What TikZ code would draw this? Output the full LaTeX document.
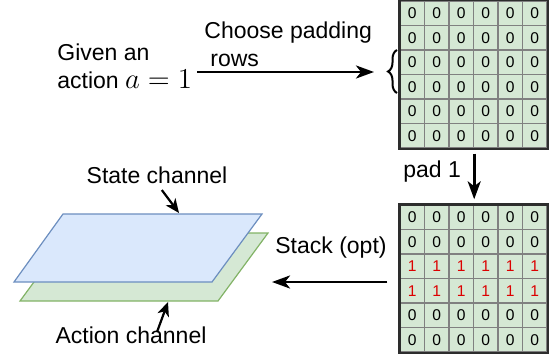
\documentclass[tikz,border=0pt]{standalone}
\usepackage{fontspec}
\setmainfont{Liberation Sans}
\usepackage{tikz}
\usetikzlibrary{arrows.meta,decorations.pathreplacing,calc}
\definecolor{mygreenfill}{RGB}{213,232,212}
\definecolor{mygreenline}{RGB}{130,179,102}
\definecolor{mybluefill}{RGB}{218,232,252}
\definecolor{myblueline}{RGB}{108,142,191}
\definecolor{mycellline}{RGB}{128,128,128}
\definecolor{myframe}{RGB}{45,45,45}
\definecolor{myred}{RGB}{220,0,0}
\tikzstyle{cell}=[draw=mycellline,fill=mygreenfill,line width=0.7pt,minimum size=12.25pt,inner sep=0pt,font=\fontsize{7.8}{9}\selectfont]
\tikzstyle{txt}=[inner sep=0pt]
\tikzstyle{flow}=[line width=1.4pt,-{Stealth[length=9pt,width=6.5pt,inset=2.5pt]}]
\tikzstyle{pointer}=[line width=1.1pt,-{Stealth[length=7pt,width=6pt,inset=2pt]}]
\begin{document}
\begin{tikzpicture}[x=0.5pt,y=-0.5pt,font=\fontsize{11.5}{13.8}\selectfont]
\useasboundingbox (0,0) rectangle (556,358);
% grid before padding
\foreach \r in {1,...,6}
  \foreach \c in {1,...,6}
    \node [cell] (t-\r-\c) at ({400+24.5*(\c-0.5)},{1+24.5*(\r-0.5)}) {0};
\draw [myframe,line width=1.2pt] (t-1-1.north west) rectangle (t-6-6.south east);
% grid after padding
\foreach \r/\v/\col in {1/0/black,2/0/black,3/1/myred,4/1/myred,5/0/black,6/0/black}
  \foreach \c in {1,...,6}
    \node [cell,text=\col] (b-\r-\c) at ({400+24.5*(\c-0.5)},{205+24.5*(\r-0.5)}) {\v};
\draw [myframe,line width=1.2pt] (b-1-1.north west) rectangle (b-6-6.south east);
% brace on the chosen rows
\draw [line width=1pt,decorate,decoration={brace,amplitude=4.5pt}] (397,93) -- (397,50);
% texts
\node [txt,anchor=west,align=left] (given) at (57,66) {Given an\\action {\fontsize{14}{13.8}\selectfont$a=1$}};
\node [txt,anchor=west,align=left] (choose) at (204,44) {Choose padding\\\hspace*{3pt}rows};
\node [txt,anchor=base west] (pad) at (403,177) {pad 1};
\node [txt,anchor=base west] (stack) at (275,253) {Stack (opt)};
\node [txt,anchor=base] (state) at (157,183) {State channel};
\node [txt,anchor=base] (action) at (131,343) {Action channel};
% channels
\filldraw [fill=mygreenfill,draw=mygreenline,line width=0.6pt] (70,233) -- (268,233) -- (218,301) -- (20,301) -- cycle;
\filldraw [fill=mybluefill,draw=myblueline,line width=0.6pt] (63,214) -- (262,214) -- (212,282) -- (14,282) -- cycle;
\coordinate (padin) at (374,72);
\coordinate (stackend) at (272,282);
\coordinate (statetip) at (179,213);
\coordinate (actiontail) at (157,332);
\coordinate (actiontip) at (168,302);
% arrows
\draw [flow,shorten <=2.5pt] (given.east |- padin) -- (padin);
\draw [flow,shorten <=2.5pt,shorten >=2.5pt] (t-6-3.south east) -- (b-1-3.north east);
\draw [flow,shorten <=6pt] (b-3-1.west |- stackend) -- (stackend);
\draw [pointer,shorten <=4pt] (state.south) -- (statetip);
\draw [pointer] (actiontail) -- (actiontip);
\end{tikzpicture}
\end{document}
